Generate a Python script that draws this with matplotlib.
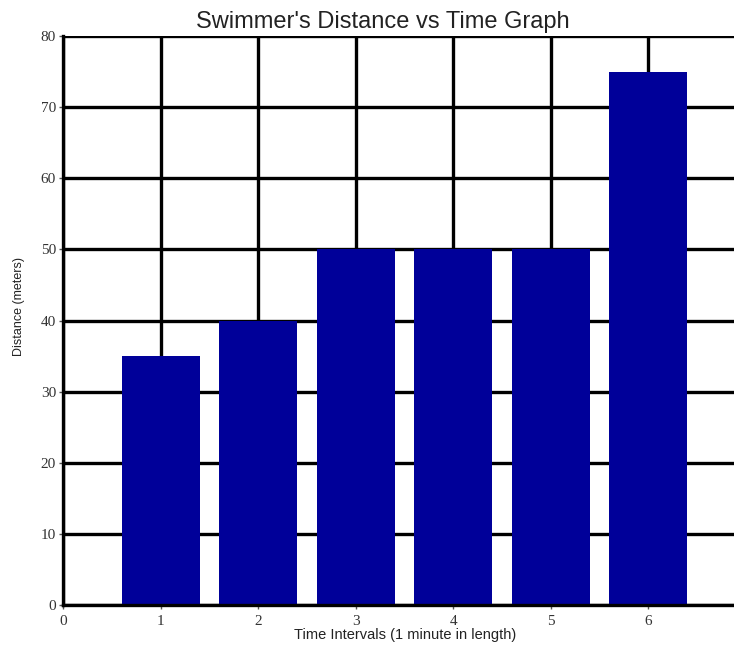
import matplotlib.pyplot as plt

intervals = [1, 2, 3, 4, 5, 6]
distance = [35, 40, 50, 50, 50, 75]
yticks = [0, 10, 20, 30, 40, 50, 60, 70, 80]
xticks = [0, 1, 2, 3, 4, 5, 6]

fig = plt.figure(figsize=(7.34, 6.48), dpi=100)
ax = fig.add_axes([63/734, 1 - 605/648, 1 - 63/734, (605 - 36)/648])

ax.bar(intervals, distance, width=0.8, color='#000099', zorder=3)

ax.set_xlim(0, 6.88)
ax.set_ylim(0, 80)
ax.set_xticks(xticks)
ax.set_yticks(yticks)
ax.grid(True, color='black', linewidth=2.4, zorder=0)
ax.set_axisbelow(True)

for s in ['top', 'right']:
	ax.spines[s].set_visible(False)
for s in ['left', 'bottom']:
	ax.spines[s].set_linewidth(2.4)
	ax.spines[s].set_zorder(4)

ax.tick_params(axis='both', length=3, width=1, color='#555555', labelsize=11,
	labelcolor='#333333', pad=2)
ax.tick_params(axis='x', pad=4.5)
for lab in ax.get_xticklabels() + ax.get_yticklabels():
	lab.set_family('Liberation Serif')

ax.set_xlabel('Time Intervals (1 minute in length)', family='Liberation Sans',
	fontsize=10.5, color='#222222', va='baseline')
ax.xaxis.set_label_coords((405 - 63) / (734 - 63), -(639 - 605) / 569)
ax.set_ylabel('Distance (meters)', family='Liberation Sans', fontsize=9,
	color='#222222', va='center')
ax.yaxis.set_label_coords(-(63 - 19) / (734 - 63), (605 - 306) / 569)

fig.text(383/734, 1 - 28/648, "Swimmer's Distance vs Time Graph",
	family='Liberation Sans', fontsize=17, ha='center', va='baseline', color='#222222')

plt.savefig('out.png', dpi=100)
